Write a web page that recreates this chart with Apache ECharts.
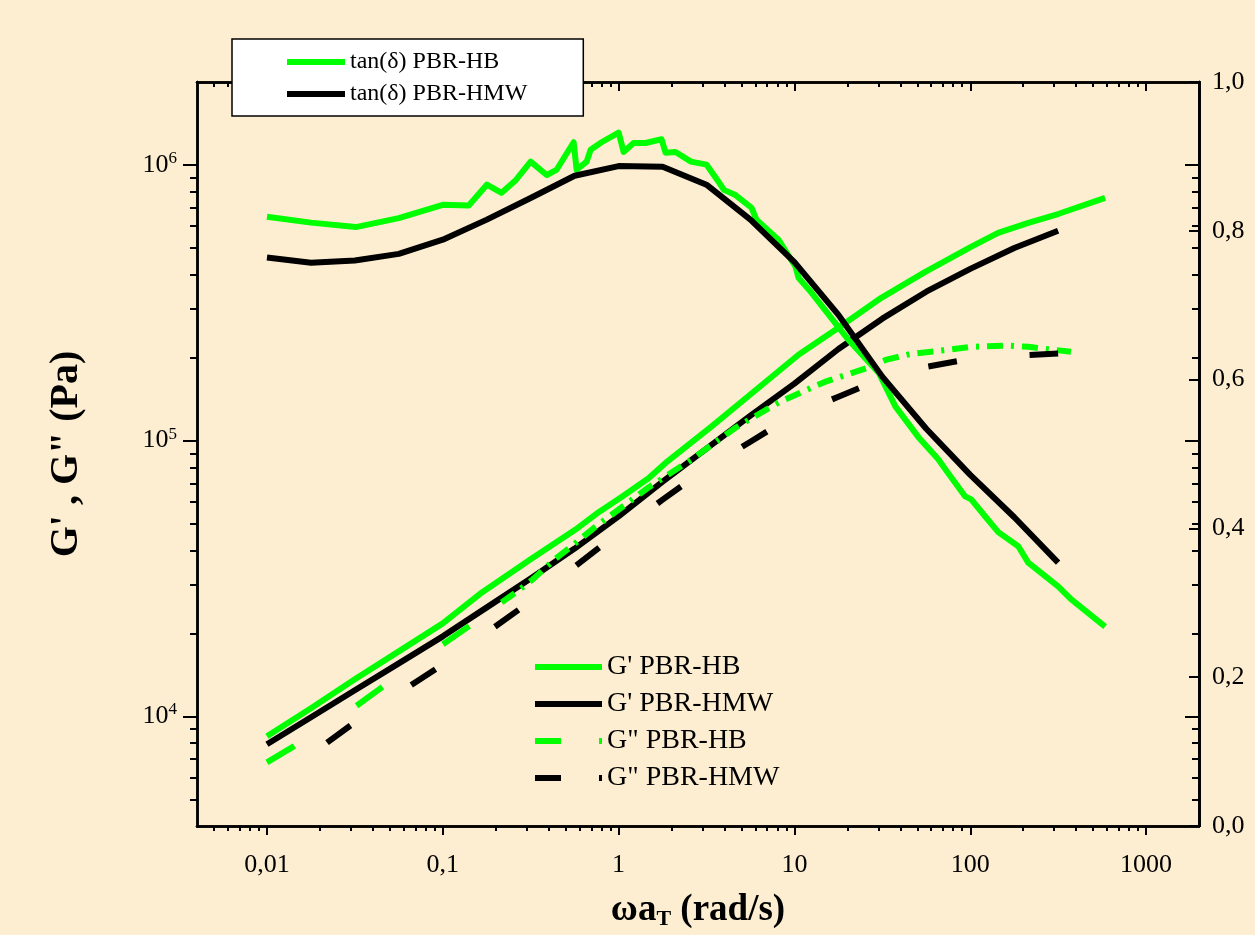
<!DOCTYPE html>
<html><head><meta charset="utf-8">
<script src="https://cdn.jsdelivr.net/npm/echarts@6/dist/echarts.min.js"></script>
<style>html,body{margin:0;padding:0;background:#fdeed2;}#c{width:1255px;height:935px;}</style>
</head><body><div id="c"></div>
<script>
// ---- tick labels ----
const xMajor = [0.01, 0.1, 1, 10, 100, 1000];
const xTickLabels = ['0,01', '0,1', '1', '10', '100', '1000'];
const yMajor = [1e4, 1e5, 1e6];
const yExponents = ['4', '5', '6'];
const tanTicks = [0, 0.2, 0.4, 0.6, 0.8, 1.0];

// ---- PBR-HMW (black) ----
const hmwX   = [0.01, 0.0178, 0.0316, 0.0562, 0.1, 0.178, 0.316, 0.562, 1, 1.78, 3.16, 5.62, 10, 17.8, 31.6, 56.2, 100, 178, 316];
const hmwGp  = [7920, 9920, 12430, 15560, 19500, 24840, 31620, 40600, 53100, 70950, 93500, 123300, 161000, 215000, 277000, 347000, 420000, 500000, 577000];
const hmwGpp = [5680, 7280, 9510, 12120, 15430, 20140, 26140, 34900, 46450, 61100, 79300, 99100, 124200, 144300, 168000, 185300, 198000, 203000, 207000];
const hmwTan = [0.764, 0.757, 0.760, 0.769, 0.788, 0.815, 0.844, 0.874, 0.887, 0.886, 0.862, 0.815, 0.758, 0.687, 0.604, 0.534, 0.472, 0.415, 0.354];

// ---- PBR-HB (green) ----
const hbGpX  = [0.01, 0.0178, 0.0316, 0.0562, 0.1, 0.167, 0.316, 0.569, 0.77, 1.04, 1.48, 1.85, 3.37, 6.25, 10.55, 17.8, 31.2, 55.5, 101, 144, 214, 316, 585];
const hbGp   = [8460, 10700, 13620, 17200, 21730, 28140, 37100, 47580, 55000, 62500, 73000, 83000, 112400, 155600, 205000, 256700, 329700, 409600, 504500, 567000, 616400, 664000, 760000];
const hbGppX = [0.01, 0.0142, 0.032, 0.045, 0.1, 0.1405, 0.1825, 0.216, 0.26, 0.324, 0.433, 0.555, 0.74, 1.478, 2.498, 4.621, 8.11, 15.0, 26.1, 33.0, 46.2, 75.4, 101, 164, 214, 374];
const hbGpp  = [6810, 7780, 10870, 12740, 18240, 21200, 23820, 25890, 28140, 31340, 37070, 41960, 48750, 67600, 83960, 111400, 137400, 163700, 183700, 196300, 206500, 213700, 219000, 221000, 219000, 210000];
const hbTanX = [0.01, 0.0178, 0.032, 0.0562, 0.1, 0.1405, 0.178, 0.216, 0.26, 0.316, 0.39, 0.444, 0.555, 0.577, 0.658, 0.693, 0.80, 1.0, 1.068, 1.217, 1.424, 1.755, 1.849, 2.108, 2.58, 3.16, 3.70, 3.97, 4.62, 5.70, 6.08, 8.11, 10.13, 10.55, 12.49, 20.2, 30.2, 37.5, 50.6, 65.8, 72.4, 93.6, 101.3, 121.7, 144.3, 187.5, 213.7, 316, 374, 585];
const hbTan  = [0.819, 0.811, 0.805, 0.817, 0.835, 0.834, 0.862, 0.851, 0.868, 0.893, 0.875, 0.882, 0.919, 0.882, 0.893, 0.909, 0.919, 0.932, 0.906, 0.918, 0.918, 0.923, 0.905, 0.906, 0.893, 0.889, 0.866, 0.855, 0.848, 0.831, 0.815, 0.788, 0.752, 0.737, 0.717, 0.654, 0.609, 0.564, 0.523, 0.493, 0.479, 0.443, 0.439, 0.416, 0.395, 0.376, 0.354, 0.322, 0.305, 0.268];

const FONT = '"Liberation Serif","Times New Roman",serif';
const GREEN = '#00ff00', BLACK = '#000000';
const pairs = (xs, ys) => xs.map((x, i) => [x, ys[i]]);
function logMinors(lo, hi) {
  const out = [];
  for (let e = Math.floor(Math.log10(lo)) - 1; e <= Math.ceil(Math.log10(hi)); e++) {
    for (let m = 2; m <= 9; m++) {
      const v = +(m * Math.pow(10, e)).toPrecision(6);
      if (v > lo * 1.0001 && v < hi * 0.9999) out.push(v);
    }
  }
  return out;
}
const X_MIN = 0.004, X_MAX = 2000, Y_MIN = 4000, Y_MAX = 2e6;
const xMinor = logMinors(X_MIN, X_MAX);
const yMinor = logMinors(Y_MIN, Y_MAX);
const splitIdx = hbGppX.indexOf(0.216);

const axisLine = { show: true, lineStyle: { color: BLACK, width: 2.5 } };
function xAx(pos, ticks, len, inside, labels) {
  return {
    type: 'log', logBase: 10, min: X_MIN, max: X_MAX, position: pos,
    axisLine: axisLine, splitLine: { show: false }, minorTick: { show: false },
    axisTick: { show: true, inside: inside, length: len, customValues: ticks, lineStyle: { color: BLACK, width: 2 } },
    axisLabel: labels ? {
      show: true, customValues: xMajor, margin: 26, fontSize: 26, fontFamily: FONT, color: BLACK,
      formatter: v => xTickLabels[Math.round(Math.log10(v)) + 2]
    } : { show: false }
  };
}
function yLogAx(pos, ticks, len, inside, labels) {
  return {
    type: 'log', logBase: 10, min: Y_MIN, max: Y_MAX, position: pos,
    axisLine: axisLine, splitLine: { show: false }, minorTick: { show: false },
    axisTick: { show: true, inside: inside, length: len, customValues: ticks, lineStyle: { color: BLACK, width: 2 } },
    axisLabel: labels ? {
      show: true, customValues: yMajor, margin: 20, fontSize: 26, fontFamily: FONT, color: BLACK, lineHeight: 30,
      formatter: v => '10{sup|' + yExponents[Math.round(Math.log10(v)) - 4] + '}',
      rich: { sup: { fontSize: 17, fontFamily: FONT, color: BLACK, lineHeight: 17, verticalAlign: 'top' } }
    } : { show: false }
  };
}

const xAxes = [
  xAx('bottom', xMajor, 9, false, true),
  xAx('bottom', xMinor, 5, false, false),
  xAx('top', xMajor, 9, true, false),
  xAx('top', xMinor, 5, true, false)
];
xAxes[0].name = 'ωa{sub|T} (rad/s)';
xAxes[0].nameLocation = 'middle';
xAxes[0].nameGap = 64;
xAxes[0].nameTextStyle = {
  fontFamily: FONT, fontSize: 37, fontWeight: 'bold', color: BLACK, lineHeight: 40,
  rich: { sub: { fontFamily: FONT, fontSize: 22, fontWeight: 'bold', color: BLACK, lineHeight: 16, verticalAlign: 'bottom' } }
};

const yAxes = [
  yLogAx('left', yMajor, 14, false, true),
  yLogAx('left', yMinor, 7, false, false),
  yLogAx('right', yMajor, 14, true, false),
  yLogAx('right', yMinor, 7, true, false),
  {
    type: 'value', min: 0, max: 1, interval: 0.2, position: 'right',
    axisLine: axisLine, splitLine: { show: false },
    axisTick: { show: true, inside: true, length: 10, lineStyle: { color: BLACK, width: 2 } },
    axisLabel: { show: true, margin: 13, fontSize: 26, fontFamily: FONT, color: BLACK,
      formatter: v => tanTicks.includes(+v.toFixed(1)) ? v.toFixed(1).replace('.', ',') : '' }
  }
];
yAxes[0].name = 'G\' , G" (Pa)';
yAxes[0].nameLocation = 'middle';
yAxes[0].nameRotate = 90;
yAxes[0].nameGap = 110;
yAxes[0].nameTextStyle = { fontFamily: FONT, fontSize: 40, fontWeight: 'bold', color: BLACK };

function lineSeries(name, data, color, yIdx, type, offset) {
  return {
    name: name, type: 'line', data: data, xAxisIndex: 0, yAxisIndex: yIdx,
    symbol: 'none', showSymbol: false, smooth: false, color: color,
    lineStyle: { color: color, width: 6, type: type || 'solid', dashOffset: offset || 0, cap: 'butt', join: 'round' },
    itemStyle: { color: color }, z: 3
  };
}
const hbGppPairs = pairs(hbGppX, hbGpp);
const series = [
  lineSeries("G' PBR-HB", pairs(hbGpX, hbGp), GREEN, 0),
  lineSeries("G' PBR-HMW", pairs(hmwX, hmwGp), BLACK, 0),
  lineSeries('G" PBR-HB', hbGppPairs.slice(0, splitIdx + 1), GREEN, 0, [32, 74], 0),
  lineSeries('G" PBR-HB', hbGppPairs.slice(splitIdx), GREEN, 0, [16, 8, 3, 8], 0),
  lineSeries('G" PBR-HMW', pairs(hmwX, hmwGpp), BLACK, 0, [29, 73], 29),
  lineSeries('tan(δ) PBR-HB', pairs(hbTanX, hbTan), GREEN, 4),
  lineSeries('tan(δ) PBR-HMW', pairs(hmwX, hmwTan), BLACK, 4)
];

const hiddenSymbol = { opacity: 0, borderWidth: 0 };
const option = {
  animation: false,
  backgroundColor: '#fdeed2',
  grid: { left: 197, right: 56, top: 82, bottom: 108, containLabel: false },
  xAxis: xAxes,
  yAxis: yAxes,
  legend: [
    {
      data: ['tan(δ) PBR-HB', 'tan(δ) PBR-HMW'],
      orient: 'vertical', left: 232, top: 39, padding: [11, 56, 10, 52],
      itemWidth: 58, itemHeight: 14, itemGap: 8, selectedMode: false,
      backgroundColor: '#ffffff', borderColor: BLACK, borderWidth: 1.5,
      itemStyle: hiddenSymbol,
      lineStyle: { width: 6, type: 'solid' },
      textStyle: { fontFamily: FONT, fontSize: 24, color: BLACK, lineHeight: 24 }, z: 10
    },
    {
      data: [
        { name: "G' PBR-HB" },
        { name: "G' PBR-HMW" },
        { name: 'G" PBR-HB', lineStyle: { type: [26, 38], dashOffset: 0 } },
        { name: 'G" PBR-HMW', lineStyle: { type: [26, 38], dashOffset: 0 } }
      ],
      orient: 'vertical', left: 532, top: 653, padding: 0,
      itemWidth: 67, itemHeight: 14, itemGap: 9, selectedMode: false,
      itemStyle: hiddenSymbol,
      lineStyle: { width: 6 },
      textStyle: { fontFamily: FONT, fontSize: 28, color: BLACK, lineHeight: 28 }, z: 10
    }
  ],
  series: series
};
const chart = echarts.init(document.getElementById('c'), null, { renderer: 'canvas' });
chart.setOption(option);
</script>
</body></html>
